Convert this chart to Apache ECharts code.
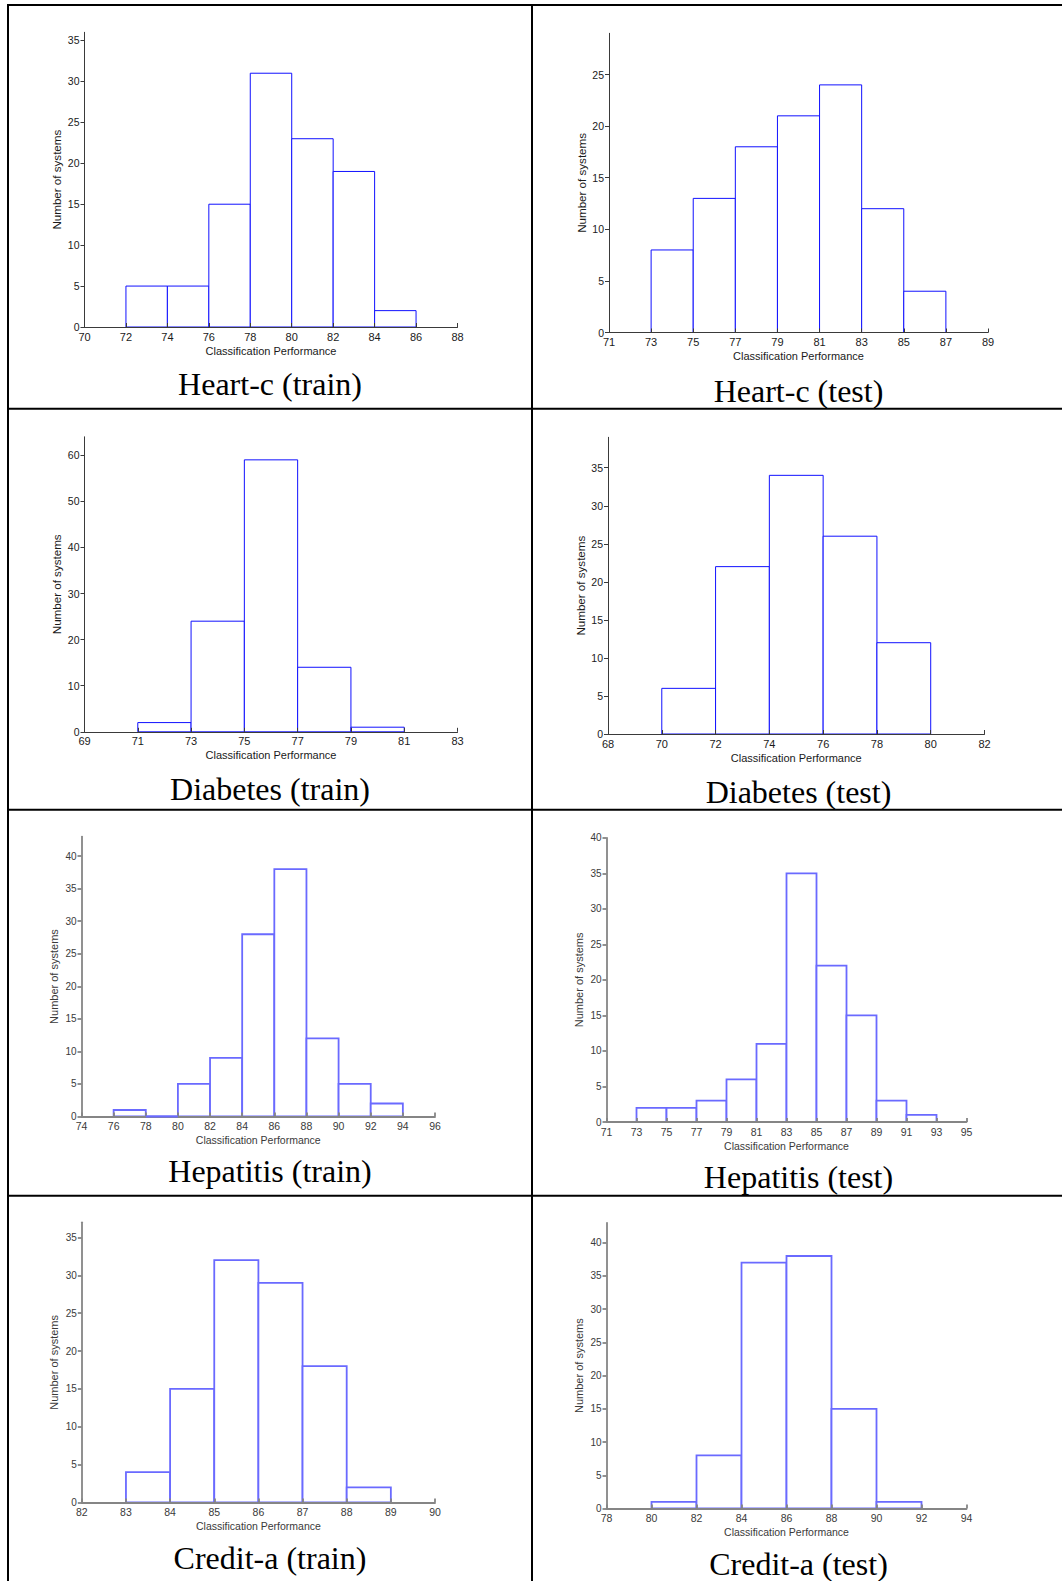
<!DOCTYPE html>
<html><head><meta charset="utf-8">
<script src="https://cdn.jsdelivr.net/npm/echarts@6/dist/echarts.min.js"></script>
<style>html,body{margin:0;padding:0;background:#fff;} #c{width:1062px;height:1581px;}</style>
</head><body><div id="c"></div>
<script>
// ---------------- data ----------------
const heartTrainEdges = [72, 74, 76, 78, 80, 82, 84, 86];
const heartTrainCounts = [5, 5, 15, 31, 23, 19, 2];
const heartTestEdges = [73, 75, 77, 79, 81, 83, 85, 87];
const heartTestCounts = [8, 13, 18, 21, 24, 12, 4];
const diabTrainEdges = [71, 73, 75, 77, 79, 81];
const diabTrainCounts = [2, 24, 59, 14, 1];
const diabTestEdges = [70, 72, 74, 76, 78, 80];
const diabTestCounts = [6, 22, 34, 26, 12];
const hepTrainEdges = [76, 78, 80, 82, 84, 86, 88, 90, 92, 94];
const hepTrainCounts = [1, 0, 5, 9, 28, 38, 12, 5, 2];
const hepTestEdges = [73, 75, 77, 79, 81, 83, 85, 87, 89, 91, 93];
const hepTestCounts = [2, 2, 3, 6, 11, 35, 22, 15, 3, 1];
const creditTrainEdges = [83, 84, 85, 86, 87, 88, 89];
const creditTrainCounts = [4, 15, 32, 29, 18, 2];
const creditTestEdges = [80, 82, 84, 86, 88, 90, 92];
const creditTestCounts = [1, 8, 37, 38, 15, 1];

// tick labels
const heartTrainXTicks = [70, 72, 74, 76, 78, 80, 82, 84, 86, 88];
const heartTestXTicks = [71, 73, 75, 77, 79, 81, 83, 85, 87, 89];
const diabTrainXTicks = [69, 71, 73, 75, 77, 79, 81, 83];
const diabTestXTicks = [68, 70, 72, 74, 76, 78, 80, 82];
const hepTrainXTicks = [74, 76, 78, 80, 82, 84, 86, 88, 90, 92, 94, 96];
const hepTestXTicks = [71, 73, 75, 77, 79, 81, 83, 85, 87, 89, 91, 93, 95];
const creditTrainXTicks = [82, 83, 84, 85, 86, 87, 88, 89, 90];
const creditTestXTicks = [78, 80, 82, 84, 86, 88, 90, 92, 94];

const heartTrainYTicks = [0, 5, 10, 15, 20, 25, 30, 35];
const heartTestYTicks = [0, 5, 10, 15, 20, 25];
const diabTrainYTicks = [0, 10, 20, 30, 40, 50, 60];
const diabTestYTicks = [0, 5, 10, 15, 20, 25, 30, 35];
const hepTrainYTicks = [0, 5, 10, 15, 20, 25, 30, 35, 40];
const hepTestYTicks = [0, 5, 10, 15, 20, 25, 30, 35, 40];
const creditTrainYTicks = [0, 5, 10, 15, 20, 25, 30, 35];
const creditTestYTicks = [0, 5, 10, 15, 20, 25, 30, 35, 40];

// axis upper limits of the y axes (top of the drawn axis line)
const yMaxValues = [36, 29, 64, 39, 43, 40, 37, 43];

const panelTitles = ['Heart-c (train)', 'Heart-c (test)', 'Diabetes (train)', 'Diabetes (test)',
  'Hepatitis (train)', 'Hepatitis (test)', 'Credit-a (train)', 'Credit-a (test)'];
const xAxisName = 'Classification Performance';
const yAxisName = 'Number of systems';

// ---------------- layout / styling ----------------
const panels = [
  {edges: heartTrainEdges, counts: heartTrainCounts, xt: heartTrainXTicks, yt: heartTrainYTicks},
  {edges: heartTestEdges, counts: heartTestCounts, xt: heartTestXTicks, yt: heartTestYTicks},
  {edges: diabTrainEdges, counts: diabTrainCounts, xt: diabTrainXTicks, yt: diabTrainYTicks},
  {edges: diabTestEdges, counts: diabTestCounts, xt: diabTestXTicks, yt: diabTestYTicks},
  {edges: hepTrainEdges, counts: hepTrainCounts, xt: hepTrainXTicks, yt: hepTrainYTicks},
  {edges: hepTestEdges, counts: hepTestCounts, xt: hepTestXTicks, yt: hepTestYTicks},
  {edges: creditTrainEdges, counts: creditTrainCounts, xt: creditTrainXTicks, yt: creditTrainYTicks},
  {edges: creditTestEdges, counts: creditTestCounts, xt: creditTestXTicks, yt: creditTestYTicks}
];
// [left, top, right, bottom] of each plot area in px
const boxes = [
  [84.5, 32.3, 457.5, 327],
  [609, 33.3, 988, 332.5],
  [84.5, 436.8, 457.5, 731.8],
  [608, 437.3, 984.5, 734],
  [81.5, 836.6, 435, 1116.5],
  [606.5, 837.8, 966.5, 1122],
  [81.8, 1222.3, 435, 1502.5],
  [606.5, 1222.8, 966.5, 1508.5]
];
const titleY = [384.3, 390.8, 788.8, 791.5, 1170.5, 1177.3, 1557.5, 1563.5];
const colCenter = [270, 798.5];

const FONT = '"Liberation Sans", Arial, Helvetica, sans-serif';
function styleFor(i) {
  if (i < 4) return {bar: '#1010ff', barW: 1, axis: '#3a3a3a', axisW: 1, text: '#1a1a1a', fs: 10.5, nfs: 11, yn: 11.6, yGap: 22};
  return {bar: '#6a6aff', barW: 1.8, axis: '#858585', axisW: 1.8, text: '#3a3a3a', fs: 10, nfs: 10.5, yn: 11, yGap: 22.5};
}

const grid = [], xAxis = [], yAxis = [], series = [], graphic = [];
panels.forEach((p, i) => {
  const st = styleFor(i);
  const b = boxes[i];
  grid.push({left: b[0], top: b[1], width: b[2] - b[0], height: b[3] - b[1], containLabel: false});
  const xt = p.xt;
  xAxis.push({
    gridIndex: i, type: 'value', min: xt[0], max: xt[xt.length - 1], z: 5,
    name: xAxisName, nameLocation: 'middle', nameGap: 18,
    nameTextStyle: {fontFamily: FONT, fontSize: st.nfs, color: st.text},
    axisLine: {show: true, onZero: false, lineStyle: {color: st.axis, width: st.axisW}},
    axisTick: {show: true, inside: true, length: 4, customValues: xt, lineStyle: {color: st.axis, width: st.axisW}},
    axisLabel: {show: true, margin: 4, customValues: xt, fontFamily: FONT, fontSize: st.fs + 0.5, color: st.text},
    splitLine: {show: false}
  });
  yAxis.push({
    gridIndex: i, type: 'value', min: 0, max: yMaxValues[i], z: 5,
    name: yAxisName, nameLocation: 'middle', nameGap: st.yGap,
    nameTextStyle: {fontFamily: FONT, fontSize: st.yn, color: st.text},
    axisLine: {show: true, onZero: false, lineStyle: {color: st.axis, width: st.axisW}},
    axisTick: {show: true, inside: false, length: 4, customValues: p.yt, lineStyle: {color: st.axis, width: st.axisW}},
    axisLabel: {show: true, margin: 5, customValues: p.yt, fontFamily: FONT, fontSize: st.fs, color: st.text},
    splitLine: {show: false}
  });
  const data = p.counts.map((c, k) => [p.edges[k], p.edges[k + 1], c]);
  // outlined histogram bins (below the axis lines)
  series.push({
    type: 'custom', xAxisIndex: i, yAxisIndex: i, clip: false, z: 2, silent: true,
    encode: {x: [0, 1], y: 2},
    data: data,
    renderItem: function (params, api) {
      const a = api.coord([api.value(0), 0]);
      const c = api.coord([api.value(1), api.value(2)]);
      return {
        type: 'rect',
        shape: {x: a[0], y: c[1], width: c[0] - a[0], height: a[1] - c[1]},
        style: {fill: '#ffffff', stroke: st.bar, lineWidth: st.barW}
      };
    }
  });
  // empty bins show their flat edge on top of the axis line
  series.push({
    type: 'custom', xAxisIndex: i, yAxisIndex: i, clip: false, z: 8, silent: true,
    encode: {x: [0, 1], y: 2},
    data: data,
    renderItem: function (params, api) {
      if (api.value(2) !== 0) return null;
      const a = api.coord([api.value(0), 0]);
      const c = api.coord([api.value(1), 0]);
      return {
        type: 'line',
        shape: {x1: a[0], y1: a[1], x2: c[0], y2: c[1]},
        style: {stroke: st.bar, lineWidth: st.barW}
      };
    }
  });
  graphic.push({
    type: 'text', x: colCenter[i % 2], y: titleY[i], z: 10,
    style: {text: panelTitles[i], fontFamily: '"Liberation Serif", "Times New Roman", serif', fontSize: 32,
      fill: '#000', textAlign: 'center', textVerticalAlign: 'middle'}
  });
});

// table borders
const bw = 2;
const borderLines = [
  [7, 5, 1062, 5],
  [8, 4, 8, 1581],
  [532, 4, 532, 1581],
  [7, 408.7, 1062, 408.7],
  [7, 809.8, 1062, 809.8],
  [7, 1195.7, 1062, 1195.7]
];
borderLines.forEach(l => graphic.push({
  type: 'line', z: 20, shape: {x1: l[0], y1: l[1], x2: l[2], y2: l[3]},
  style: {stroke: '#000', lineWidth: bw}
}));

const chart = echarts.init(document.getElementById('c'), null, {renderer: 'svg', width: 1062, height: 1581});
chart.setOption({
  animation: false,
  backgroundColor: '#ffffff',
  grid: grid, xAxis: xAxis, yAxis: yAxis, series: series, graphic: graphic
});
</script>
</body></html>
